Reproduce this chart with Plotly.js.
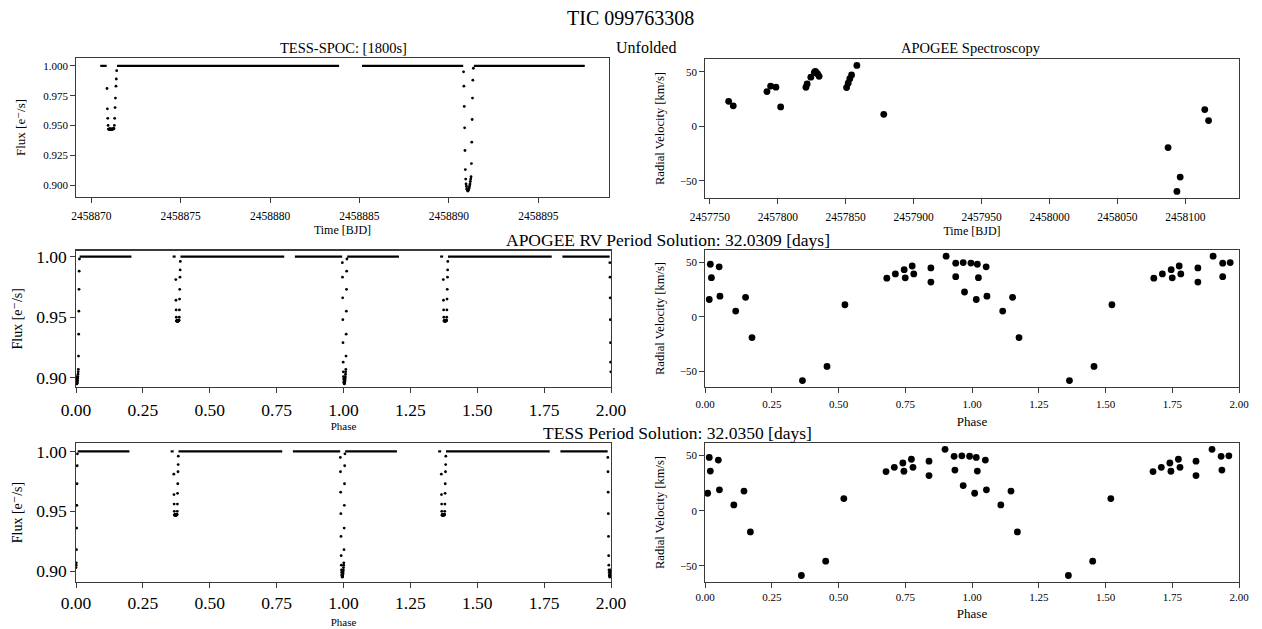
<!DOCTYPE html>
<html>
<head>
<meta charset="utf-8">
<script src="https://cdn.plot.ly/plotly-3.0.1.min.js"></script>
<style>html,body{margin:0;padding:0;background:#fff;}#chart{width:1262px;height:629px;}</style>
</head>
<body>
<div id="chart"></div>
<script>
// ---------------- DATA ----------------
// TESS-SPOC 1800 s light curve (BJD, normalised flux)
const baselineStart = [2458870.50, 2458871.44, 2458885.14, 2458891.40];
const baselineEnd   = [2458870.86, 2458883.86, 2458890.80, 2458897.60];
const baselineFlux  = [1.000, 1.000, 1.000, 1.000];

const secondaryTime = [2458870.88, 2458870.90, 2458870.92, 2458870.94, 2458870.96, 2458870.98, 2458871.00, 2458871.02, 2458871.04,
  2458871.06, 2458871.08, 2458871.10, 2458871.12, 2458871.15, 2458871.17, 2458871.19, 2458871.21, 2458871.23, 2458871.25,
  2458871.27, 2458871.29, 2458871.31, 2458871.33, 2458871.35, 2458871.38, 2458871.40, 2458871.42];
const secondaryFlux = [0.981, 0.964, 0.956, 0.950, 0.947, 0.9468, 0.9472, 0.9466, 0.947, 0.9474, 0.9468, 0.947, 0.9465, 0.9472,
  0.947, 0.9468, 0.9474, 0.947, 0.9472, 0.9475, 0.950, 0.956, 0.965, 0.973, 0.983, 0.989, 0.996];

const primaryTime = [2458890.82, 2458890.84, 2458890.86, 2458890.88, 2458890.90, 2458890.92, 2458890.94, 2458890.96, 2458890.98,
  2458891.00, 2458891.02, 2458891.04, 2458891.06, 2458891.08, 2458891.10, 2458891.12, 2458891.14, 2458891.16, 2458891.18,
  2458891.20, 2458891.22, 2458891.24, 2458891.26, 2458891.28, 2458891.30, 2458891.32, 2458891.34, 2458891.37];
const primaryFlux = [0.995, 0.983, 0.966, 0.948, 0.929, 0.913, 0.905, 0.901, 0.899, 0.897, 0.8965, 0.8955, 0.895, 0.8955,
  0.896, 0.897, 0.898, 0.8995, 0.901, 0.903, 0.905, 0.907, 0.918, 0.936, 0.955, 0.973, 0.988, 0.998];

// Period solutions [days] and reference epochs (BJD) used for folding
const periodRV = 32.0309;
const periodTESS = 32.0350;
const epochRV = 2458890.96;
const epochTESS = 2458891.20;

// APOGEE radial velocities (BJD, km/s)
const rvTime = [2457763.8, 2457767.2, 2457792.0, 2457794.7, 2457798.6, 2457802.1, 2457820.7, 2457821.6, 2457824.3,
  2457826.9, 2457827.6, 2457828.5, 2457829.4, 2457830.4, 2457850.6, 2457851.8, 2457853.0, 2457854.3, 2457858.2,
  2457878.0, 2458087.3, 2458093.8, 2458096.2, 2458114.3, 2458117.1];
const rvVel = [23.0, 18.9, 31.9, 37.0, 36.0, 17.9, 35.9, 38.9, 45.1, 49.6, 50.4, 49.2, 48.0, 45.9, 35.6, 39.6, 43.8, 47.2,
  55.9, 11.1, -19.4, -59.6, -46.4, 15.4, 5.4];

// Folded radial velocities (phase, km/s) as drawn
const rvFoldVel = [15.9, 48.3, 36.0, 45.9, 19.0, 5.3, 17.9, -19.1, -58.6, -45.6, 11.1, 35.5, 39.4, 43.3, 35.8, 46.7, 39.4,
  44.9, 31.9, 55.7, 49.3, 36.9, 49.8, 22.8, 49.4];
const rvPhaseRV = [0.016, 0.020, 0.024, 0.053, 0.056, 0.115, 0.152, 0.176, 0.365, 0.457, 0.524, 0.681, 0.713, 0.746, 0.750,
  0.776, 0.782, 0.846, 0.846, 0.903, 0.939, 0.939, 0.967, 0.972, 0.996];
const rvPhaseTESS = [0.010, 0.016, 0.020, 0.050, 0.054, 0.108, 0.146, 0.170, 0.361, 0.452, 0.520, 0.678, 0.709, 0.741, 0.745,
  0.773, 0.779, 0.839, 0.839, 0.899, 0.933, 0.936, 0.962, 0.967, 0.991];
// second drawn cycle (phase 1-2) shows the first 23 of them
const rvSecondVel = [15.9, 48.3, 36.0, 45.9, 19.0, 5.3, 17.9, -19.1, -58.6, -45.6, 11.1, 35.5, 39.4, 43.3, 35.8, 46.7, 39.4,
  44.9, 31.9, 55.7, 49.3, 36.9, 49.8];
const rvSecondPhaseRV = [1.016, 1.020, 1.024, 1.053, 1.056, 1.115, 1.152, 1.176, 1.365, 1.457, 1.524, 1.681, 1.713, 1.746,
  1.750, 1.776, 1.782, 1.846, 1.846, 1.903, 1.939, 1.939, 1.967];
const rvSecondPhaseTESS = [1.010, 1.016, 1.020, 1.050, 1.054, 1.108, 1.146, 1.170, 1.361, 1.452, 1.520, 1.678, 1.709, 1.741,
  1.745, 1.773, 1.779, 1.839, 1.839, 1.899, 1.933, 1.936, 1.962];

// Text
const mainTitle = 'TIC 099763308';
const titleLC = 'TESS-SPOC: [1800s]';
const titleUnfolded = 'Unfolded';
const titleRV = 'APOGEE Spectroscopy';
const titleRowRV = 'APOGEE RV Period Solution: 32.0309 [days]';
const titleRowTESS = 'TESS Period Solution: 32.0350 [days]';
const fluxLabel = 'Flux [e\u207B/s]';
const rvLabel = 'Radial Velocity [km/s]';
const timeLabel = 'Time [BJD]';
const phaseLabel = 'Phase';

// ---------------- HELPERS ----------------
const FONT = 'Liberation Serif, Times New Roman, DejaVu Serif, serif';
const W = 1262, H = 629;
function fx(px) { return px / W; }
function fy(py) { return 1 - py / H; }
function phaseOf(t, t0, P) { let p = ((t - t0) / P) % 1; if (p < 0) p += 1; return p; }

function eclipsePts(t0, P) {
  const x = [], y = [];
  const allT = secondaryTime.concat(primaryTime);
  const allF = secondaryFlux.concat(primaryFlux);
  for (let c = 0; c < 2; c++) {
    for (let i = 0; i < allT.length; i++) { x.push(phaseOf(allT[i], t0, P) + c); y.push(allF[i]); }
  }
  return {x, y};
}
function baselineFold(t0, P) {
  const x = [], y = [];
  for (let c = 0; c < 2; c++) {
    for (let i = 0; i < baselineStart.length; i++) {
      const p0 = phaseOf(baselineStart[i], t0, P), p1 = phaseOf(baselineEnd[i], t0, P);
      if (p1 >= p0) { x.push(p0 + c, p1 + c, null); y.push(baselineFlux[i], baselineFlux[i], null); }
      else {
        x.push(p0 + c, 1 + c, null, c, p1 + c, null);
        y.push(baselineFlux[i], baselineFlux[i], null, baselineFlux[i], baselineFlux[i], null);
      }
    }
  }
  return {x, y};
}
function baselineTime() {
  const x = [], y = [];
  for (let i = 0; i < baselineStart.length; i++) {
    x.push(baselineStart[i], baselineEnd[i], null); y.push(baselineFlux[i], baselineFlux[i], null);
  }
  return {x, y};
}

const lcLine = {color: '#000', width: 2.2};
const lcMarker = {color: '#000', size: 2.8};
const rvMarker = {color: '#000', size: 6.8};

const traces = [];
const bt = baselineTime();
traces.push({x: bt.x, y: bt.y, xaxis: 'x', yaxis: 'y', mode: 'lines', line: lcLine});
traces.push({x: secondaryTime.concat(primaryTime), y: secondaryFlux.concat(primaryFlux), xaxis: 'x', yaxis: 'y',
  mode: 'markers', marker: lcMarker});
traces.push({x: rvTime, y: rvVel, xaxis: 'x2', yaxis: 'y2', mode: 'markers', marker: rvMarker});
const bRV = baselineFold(epochRV, periodRV), eRV = eclipsePts(epochRV, periodRV);
traces.push({x: bRV.x, y: bRV.y, xaxis: 'x3', yaxis: 'y3', mode: 'lines', line: lcLine});
traces.push({x: eRV.x, y: eRV.y, xaxis: 'x3', yaxis: 'y3', mode: 'markers', marker: lcMarker});
traces.push({x: rvPhaseRV.concat(rvSecondPhaseRV), y: rvFoldVel.concat(rvSecondVel), xaxis: 'x4', yaxis: 'y4',
  mode: 'markers', marker: rvMarker});
const bT = baselineFold(epochTESS, periodTESS), eT = eclipsePts(epochTESS, periodTESS);
traces.push({x: bT.x, y: bT.y, xaxis: 'x5', yaxis: 'y5', mode: 'lines', line: lcLine});
traces.push({x: eT.x, y: eT.y, xaxis: 'x5', yaxis: 'y5', mode: 'markers', marker: lcMarker});
traces.push({x: rvPhaseTESS.concat(rvSecondPhaseTESS), y: rvFoldVel.concat(rvSecondVel), xaxis: 'x6', yaxis: 'y6',
  mode: 'markers', marker: rvMarker});

function tf(size) { return {family: FONT, size: size, color: '#000'}; }
function ax(extra) {
  return Object.assign({
    showline: true, mirror: true, linecolor: '#3a3a3a', linewidth: 1.2,
    ticks: 'outside', ticklen: 4.5, tickwidth: 1, tickcolor: '#3a3a3a',
    showgrid: false, zeroline: false, automargin: false,
    tickfont: tf(11)
  }, extra);
}

const layout = {
  width: W, height: H, showlegend: false,
  paper_bgcolor: '#fff', plot_bgcolor: '#fff',
  margin: {l: 0, r: 0, t: 0, b: 0},
  font: {family: FONT, color: '#000'},
  xaxis: ax({domain: [fx(76), fx(609)], anchor: 'y', range: [2458869.145, 2458898.955], tick0: 2458870, dtick: 5,
    tickformat: 'd', tickfont: tf(11.5), ticklabelstandoff: 3, title: {text: timeLabel, font: tf(12), standoff: 5}}),
  yaxis: ax({domain: [fy(197), fy(58)], anchor: 'x', range: [0.890, 1.0066], tick0: 0.9, dtick: 0.025, tickformat: '.3f',
    tickfont: tf(11), title: {text: fluxLabel, font: tf(13), standoff: 14}}),
  xaxis2: ax({domain: [fx(705), fx(1239)], anchor: 'y2', range: [2457746.4, 2458139.5], tick0: 2457750, dtick: 50,
    tickformat: 'd', tickfont: tf(11.5), ticklabelstandoff: 3, title: {text: timeLabel, font: tf(12), standoff: 5}}),
  yaxis2: ax({domain: [fy(198), fy(59)], anchor: 'x2', range: [-65.6, 61.8], tick0: -50, dtick: 50,
    tickfont: tf(11), title: {text: rvLabel, font: tf(12.5), standoff: 12}}),
  xaxis3: ax({domain: [fx(76), fx(611)], anchor: 'y3', range: [0, 2], tick0: 0, dtick: 0.25, tickformat: '.2f',
    tickfont: tf(17.5), ticklabelstandoff: 2, title: {text: phaseLabel, font: tf(11), standoff: 3}}),
  yaxis3: ax({domain: [fy(387), fy(250.5)], anchor: 'x3', range: [0.8925, 1.005], tick0: 0.9, dtick: 0.05, tickformat: '.2f',
    tickfont: tf(17.5), title: {text: fluxLabel, font: tf(14), standoff: 10}}),
  xaxis4: ax({domain: [fx(705), fx(1239)], anchor: 'y4', range: [0, 2], tick0: 0, dtick: 0.25, tickformat: '.2f',
    tickfont: tf(11), ticklabelstandoff: 2, title: {text: phaseLabel, font: tf(13), standoff: 8}}),
  yaxis4: ax({domain: [fy(387), fy(250)], anchor: 'x4', range: [-64.5, 61.4], tick0: -50, dtick: 50,
    tickfont: tf(11), title: {text: rvLabel, font: tf(12.5), standoff: 12}}),
  xaxis5: ax({domain: [fx(76), fx(611)], anchor: 'y5', range: [0, 2], tick0: 0, dtick: 0.25, tickformat: '.2f',
    tickfont: tf(17.5), ticklabelstandoff: 0, title: {text: phaseLabel, font: tf(11), standoff: 6}}),
  yaxis5: ax({domain: [fy(582), fy(443)], anchor: 'x5', range: [0.891, 1.007], tick0: 0.9, dtick: 0.05, tickformat: '.2f',
    tickfont: tf(17.5), title: {text: fluxLabel, font: tf(14), standoff: 10}}),
  xaxis6: ax({domain: [fx(705), fx(1239)], anchor: 'y6', range: [0, 2], tick0: 0, dtick: 0.25, tickformat: '.2f',
    tickfont: tf(11), ticklabelstandoff: 2.5, title: {text: phaseLabel, font: tf(13), standoff: 7}}),
  yaxis6: ax({domain: [fy(582), fy(443)], anchor: 'x6', range: [-64.5, 61.4], tick0: -50, dtick: 50,
    tickfont: tf(11), title: {text: rvLabel, font: tf(12.5), standoff: 12}}),
  annotations: [
    {text: mainTitle, x: fx(630), y: fy(18), font: tf(20)},
    {text: titleLC, x: fx(343), y: fy(48), font: tf(14.5)},
    {text: titleUnfolded, x: fx(646), y: fy(47), font: tf(16)},
    {text: titleRV, x: fx(971), y: fy(48), font: tf(14.5)},
    {text: titleRowRV, x: fx(668), y: fy(240.5), font: tf(17.5)},
    {text: titleRowTESS, x: fx(677), y: fy(433), font: tf(17.5)}
  ].map(a => Object.assign({xref: 'paper', yref: 'paper', xanchor: 'center', yanchor: 'middle', showarrow: false}, a))
};

Plotly.newPlot('chart', traces, layout, {staticPlot: true, displayModeBar: false});
</script>
</body>
</html>
